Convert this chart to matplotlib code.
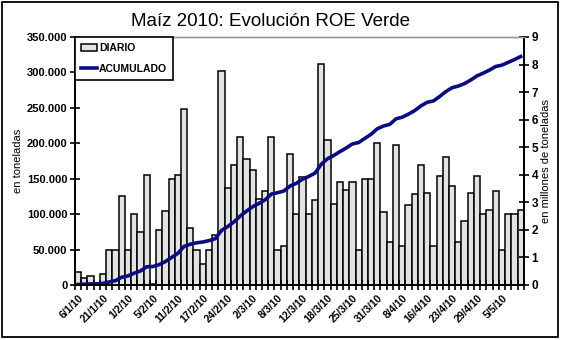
import matplotlib
matplotlib.use("Agg")
from matplotlib import pyplot as plt
from matplotlib.ticker import FuncFormatter, FixedLocator
from matplotlib.patches import Rectangle
import numpy as np

fuente = ['Liberation Sans Narrow', 'Liberation Sans', 'DejaVu Sans']
plt.rcParams['font.family'] = fuente

# toneladas por dia
diario = [18000, 10000, 13000, 3000, 15000, 50000, 50000, 125000, 50000, 100000,
          75000, 155000, 2000, 77000, 105000, 150000, 155000, 248000, 80000, 50000,
          30000, 50000, 70000, 302000, 137000, 170000, 209000, 178000, 162000, 122000,
          132000, 209000, 49000, 55000, 185000, 100000, 153000, 100000, 120000, 312000,
          204000, 115000, 145000, 134000, 146000, 50000, 150000, 150000, 200000, 103000,
          60000, 197000, 55000, 113000, 128000, 170000, 130000, 55000, 154000, 180000,
          140000, 61000, 90000, 130000, 154000, 100000, 106000, 133000, 50000, 100000,
          100000, 106000]

# millones de toneladas acumuladas
acumulado = [0.02, 0.03, 0.04, 0.04, 0.06, 0.11, 0.16, 0.28, 0.33, 0.43,
             0.51, 0.66, 0.67, 0.74, 0.85, 1.00, 1.15, 1.40, 1.48, 1.53,
             1.56, 1.61, 1.68, 1.98, 2.12, 2.29, 2.50, 2.68, 2.84, 2.96,
             3.09, 3.30, 3.35, 3.41, 3.59, 3.69, 3.84, 3.94, 4.06, 4.38,
             4.58, 4.70, 4.84, 4.97, 5.12, 5.17, 5.32, 5.47, 5.67, 5.77,
             5.83, 6.03, 6.09, 6.20, 6.33, 6.50, 6.63, 6.68, 6.84, 7.02,
             7.16, 7.22, 7.31, 7.44, 7.59, 7.69, 7.80, 7.93, 7.98, 8.08,
             8.18, 8.29]

fechas = ["6/1/10", "21/1/10", "1/2/10", "5/2/10", "11/2/10", "17/2/10",
          "24/2/10", "2/3/10", "8/3/10", "12/3/10", "18/3/10", "25/3/10",
          "31/3/10", "8/4/10", "16/4/10", "23/4/10", "29/4/10", "5/5/10"]

x = np.arange(len(diario))

fig = plt.figure(figsize=(5.62, 3.40), dpi=100)
ax = fig.add_axes([0.1335, 0.1618, 0.7985, 0.7294])
ax2 = ax.twinx()

barras = ax.bar(x, diario, width=1.0, color='#e3e3e3', edgecolor='black',
                linewidth=1.1, label='DIARIO')
linea, = ax2.plot(x, acumulado, color='#0b0b82', linewidth=2.6, label='ACUMULADO')

ax.set_xlim(-0.5, len(diario) - 0.5)
ax.set_ylim(0, 350000)
ax2.set_ylim(0, 9)
ax.set_yticks(range(0, 350001, 50000))
ax2.set_yticks(range(0, 10))
ax.yaxis.set_major_formatter(FuncFormatter(lambda v, p: f"{int(v):,}".replace(",", ".")))

ax.set_xticks(x[::4])
ax.set_xticklabels(fechas, rotation=45, ha='right', rotation_mode='anchor',
                   fontsize=7.5, fontweight='bold')
ax.xaxis.set_minor_locator(FixedLocator(np.arange(-0.5, len(diario), 1)))
ax.tick_params(axis='x', which='major', length=0, pad=6)
ax.tick_params(axis='x', which='minor', direction='inout', length=7, width=1.2)
ax.tick_params(axis='y', direction='inout', length=7, width=1.2, labelsize=8, pad=2)
ax2.tick_params(axis='y', direction='inout', length=7, width=1.2, labelsize=8.5, pad=2)
for lab in ax.get_yticklabels() + ax2.get_yticklabels():
    lab.set_fontweight('bold')

for a in (ax, ax2):
    a.spines['top'].set_color('#999999')
    a.spines['top'].set_linewidth(1.0)
    for s in ('left', 'right', 'bottom'):
        a.spines[s].set_linewidth(1.4)

ax.set_ylabel("en toneladas", fontsize=8, labelpad=3)
ax2.set_ylabel("en millones de toneladas", fontsize=8, rotation=90, labelpad=2)

fig.text(0.482, 0.924, "Maíz 2010: Evolución ROE Verde", ha='center',
         va='baseline', fontsize=13.5, fontweight='medium')

leg = ax2.legend([barras, linea], ['DIARIO', 'ACUMULADO'], loc='upper left',
                 bbox_to_anchor=(0.0, 1.0), borderaxespad=0, fancybox=False,
                 framealpha=1, edgecolor='black', fontsize=7.5, handlelength=1.5,
                 handletextpad=0.2, borderpad=0.6, labelspacing=1.0)
leg.get_frame().set_linewidth(1.2)
for t in leg.get_texts():
    t.set_fontweight('bold')

fig.patches.append(Rectangle((0.004, 0.008), 0.988, 0.985, transform=fig.transFigure,
                             fill=False, edgecolor='black', linewidth=1.3))

fig.savefig("out.png", dpi=100)
